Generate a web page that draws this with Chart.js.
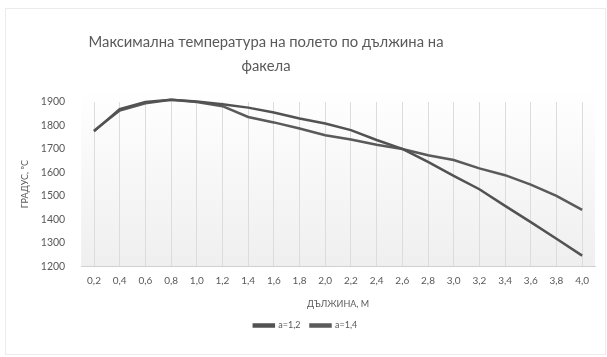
<!DOCTYPE html>
<html><head><meta charset="utf-8">
<script src="https://cdn.jsdelivr.net/npm/chart.js@4/dist/chart.umd.min.js"></script>
<style>html,body{margin:0;padding:0;background:#fff}#w{width:607px;height:357px}</style>
</head><body><div id="w"><canvas id="c"></canvas></div>
<script>
const categories = ['0,2','0,4','0,6','0,8','1,0','1,2','1,4','1,6','1,8','2,0','2,2','2,4','2,6','2,8','3,0','3,2','3,4','3,6','3,8','4,0'];
const seriesA12 = [1775,1870,1900,1910,1902,1890,1876,1855,1830,1808,1780,1738,1700,1645,1585,1528,1457,1388,1317,1245];
const seriesA14 = [1778,1864,1895,1910,1900,1882,1836,1813,1787,1758,1740,1718,1700,1673,1653,1617,1588,1548,1500,1440];
const yTicks = [1200,1300,1400,1500,1600,1700,1800,1900];
const titleLines = ['Максимална температура на полето по дължина на','факела'];
const bg = {
  id:'bg',
  beforeDraw(chart){
    const {ctx, chartArea:a} = chart;
    ctx.save();
    ctx.strokeStyle='#ececec'; ctx.lineWidth=1;
    ctx.strokeRect(5.5,8.5,600,346);
    const g = ctx.createLinearGradient(0,a.top-14,0,a.bottom);
    g.addColorStop(0,'#ffffff'); g.addColorStop(1,'#efefef');
    ctx.fillStyle=g;
    ctx.fillRect(a.left,a.top-14,a.right-a.left,a.bottom-a.top+14);
    ctx.fillStyle='#595959';
    ctx.font='14.8px Lato';
    ctx.textAlign='center'; ctx.textBaseline='middle';
    ctx.fillText(titleLines[0],266,42);
    ctx.fillText(titleLines[1],266,66);
    ctx.restore();
  }
};
new Chart(document.getElementById('c'),{
  type:'line',
  data:{labels:categories,datasets:[
    {label:'a=1,2',data:seriesA12,borderColor:'#525252',backgroundColor:'#525252',borderWidth:2.5,pointRadius:0,tension:0,clip:false},
    {label:'a=1,4',data:seriesA14,borderColor:'#5a5a5a',backgroundColor:'#5a5a5a',borderWidth:2.5,pointRadius:0,tension:0,clip:false}
  ]},
  options:{
    responsive:true,maintainAspectRatio:false,animation:false,
    layout:{padding:{left:16,right:12,top:102,bottom:17}},
    plugins:{
      title:{display:false},
      legend:{position:'bottom',labels:{boxWidth:20,boxHeight:2,padding:10,color:'#595959',font:{family:'Lato',size:9}}},
      tooltip:{enabled:false}
    },
    scales:{
      x:{offset:true,grid:{offset:false,color:'#dcdcdc',drawTicks:false},border:{color:'#d0d0d0'},
         ticks:{color:'#595959',font:{family:'Lato',size:10},padding:9,maxRotation:0,autoSkip:false},
         title:{display:true,text:'ДЪЛЖИНА, М',color:'#595959',font:{family:'Lato',size:9},padding:{top:2,bottom:2}}},
      y:{min:1200,max:1900,afterBuildTicks(ax){ax.ticks=yTicks.map(v=>({value:v}));},
         grid:{display:false},border:{display:false},
         ticks:{color:'#595959',font:{family:'Lato',size:10.5},padding:8,callback:v=>String(v)},
         title:{display:true,text:'ГРАДУС, ºC',color:'#595959',font:{family:'Lato',size:9},padding:{bottom:2}}}
    }
  },
  plugins:[bg]
});
</script></body></html>
